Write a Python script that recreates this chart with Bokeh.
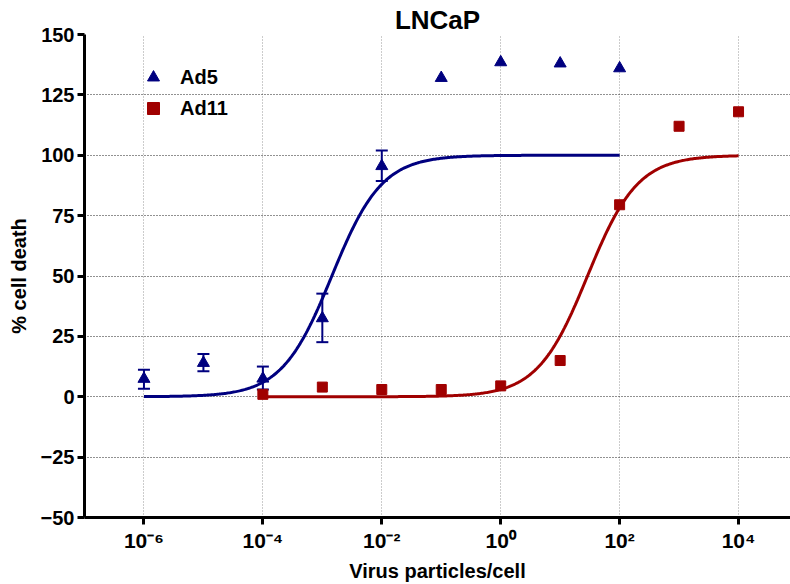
import numpy as np
from bokeh.plotting import figure
from bokeh.models import (Range1d, FixedTicker, CustomJSTickFormatter, ColumnDataSource,
                          Whisker, TeeHead, Legend, LegendItem)
from bokeh.embed import file_html
from bokeh.resources import INLINE

# ---- data ----
ad5_x = [1e-6, 1e-5, 1e-4, 1e-3, 1e-2, 1e-1, 1e0, 1e1, 1e2]
ad5_y = [7.4, 14.0, 7.5, 32.5, 95.5, 132.0, 138.5, 138.0, 136.0]
ad5_err_x = [1e-6, 1e-5, 1e-4, 1e-3, 1e-2]
ad5_err_upper = [11.2, 17.7, 12.5, 42.7, 102.0]
ad5_err_lower = [3.3, 10.6, 3.0, 22.6, 89.3]

ad11_x = [1e-4, 1e-3, 1e-2, 1e-1, 1e0, 1e1, 1e2, 1e3, 1e4]
ad11_y = [1.0, 4.0, 3.0, 3.0, 4.5, 15.0, 79.5, 112.0, 118.0]

# fitted sigmoidal dose-response (bottom, top, logEC50, Hill slope, log-x span)
ad5_fit = dict(bottom=0.0, top=100.0, logec50=-2.84, hill=1.03, xmin=-6, xmax=2)
ad11_fit = dict(bottom=0.0, top=100.0, logec50=1.46, hill=1.03, xmin=-4, xmax=4)

x_ticks = [1e-6, 1e-4, 1e-2, 1e0, 1e2, 1e4]
y_ticks = [-50, -25, 0, 25, 50, 75, 100, 125, 150]

NAVY = "#00007F"
RED = "#A00000"
FONT = "Liberation Sans"


def fit_curve(f):
    lx = np.linspace(f["xmin"], f["xmax"], 400)
    y = f["bottom"] + (f["top"] - f["bottom"]) / (1 + 10 ** ((f["logec50"] - lx) * f["hill"]))
    return 10 ** lx, y


p = figure(width=790, height=584, x_axis_type="log",
           x_range=Range1d(1e-7, 10 ** 4.874), y_range=Range1d(-50, 150),
           output_backend="svg", toolbar_location=None,
           min_border_left=84, min_border_right=0, min_border_top=34, min_border_bottom=62)

p.title.text = "LNCaP"
p.title.align = "center"
p.title.text_font = FONT
p.title.text_font_size = "26px"
p.title.text_font_style = "bold"
p.title.text_color = "black"
p.title.standoff = 0
p.title.offset = 0

p.outline_line_color = None
p.background_fill_color = "white"

# axes
for ax in (p.xaxis[0], p.yaxis[0]):
    ax.axis_line_width = 3
    ax.axis_line_color = "black"
    ax.major_tick_line_width = 3
    ax.major_tick_line_color = "black"
    ax.major_tick_in = 0
    ax.major_tick_out = 7
    ax.minor_tick_line_color = None
    ax.major_label_text_font = FONT
    ax.major_label_text_font_size = "20px"
    ax.major_label_text_font_style = "bold"
    ax.major_label_text_color = "black"
    ax.axis_label_text_font = FONT
    ax.axis_label_text_font_size = "20px"
    ax.axis_label_text_font_style = "bold"
    ax.axis_label_text_color = "black"

p.xaxis.ticker = FixedTicker(ticks=x_ticks, minor_ticks=[])
p.xaxis.formatter = CustomJSTickFormatter(code="""
const e = Math.round(Math.log10(tick));
const sup = {'-':'\u207B','0':'\u2070','1':'\u00B9','2':'\u00B2','3':'\u00B3','4':'\u2074',
             '5':'\u2075','6':'\u2076','7':'\u2077','8':'\u2078','9':'\u2079'};
return '10' + String(e).split('').map(c => sup[c]).join('');
""")
p.xaxis.major_label_text_font_size = "21px"
p.xaxis.axis_label = "Virus particles/cell"
p.xaxis.axis_label_standoff = 5
p.xaxis.major_label_standoff = 4

p.yaxis.ticker = FixedTicker(ticks=y_ticks, minor_ticks=[])
p.yaxis.axis_label = "% cell death"
p.yaxis.axis_label_standoff = 8
p.yaxis.major_label_standoff = 3

# grids
p.xgrid.ticker = FixedTicker(ticks=x_ticks)
p.xgrid.grid_line_color = "#999999"
p.xgrid.grid_line_dash = "1 2"
p.xgrid.grid_line_width = 1
p.ygrid.ticker = FixedTicker(ticks=y_ticks)
p.ygrid.grid_line_color = "#222222"
p.ygrid.grid_line_dash = "1 2"
p.ygrid.grid_line_width = 1

# fitted curves
cx5, cy5 = fit_curve(ad5_fit)
cx11, cy11 = fit_curve(ad11_fit)
p.line(cx11, cy11, line_color=RED, line_width=3)
p.line(cx5, cy5, line_color=NAVY, line_width=3)

# error bars
err_src = ColumnDataSource(dict(x=ad5_err_x, upper=ad5_err_upper, lower=ad5_err_lower))
wh = Whisker(source=err_src, base="x", upper="upper", lower="lower", dimension="height",
             line_color=NAVY, line_width=2,
             upper_head=TeeHead(size=12, line_color=NAVY, line_width=2),
             lower_head=TeeHead(size=12, line_color=NAVY, line_width=2))
p.add_layout(wh)

# points
r5 = p.scatter(ad5_x, ad5_y, marker="triangle", size=12, fill_color=NAVY, line_color=NAVY)
r11 = p.scatter(ad11_x, ad11_y, marker="square", size=10, fill_color=RED, line_color=RED)

legend = Legend(items=[LegendItem(label="Ad5", renderers=[r5]),
                       LegendItem(label="Ad11", renderers=[r11])],
                location=(54, 394), orientation="vertical",
                background_fill_alpha=0, border_line_alpha=0,
                padding=0, margin=0, spacing=1,
                glyph_width=30, glyph_height=30, label_standoff=12,
                label_text_font=FONT, label_text_font_size="20px",
                label_text_font_style="bold", label_text_color="black")
p.add_layout(legend)

open("out.html", "w").write(file_html(p, INLINE))
